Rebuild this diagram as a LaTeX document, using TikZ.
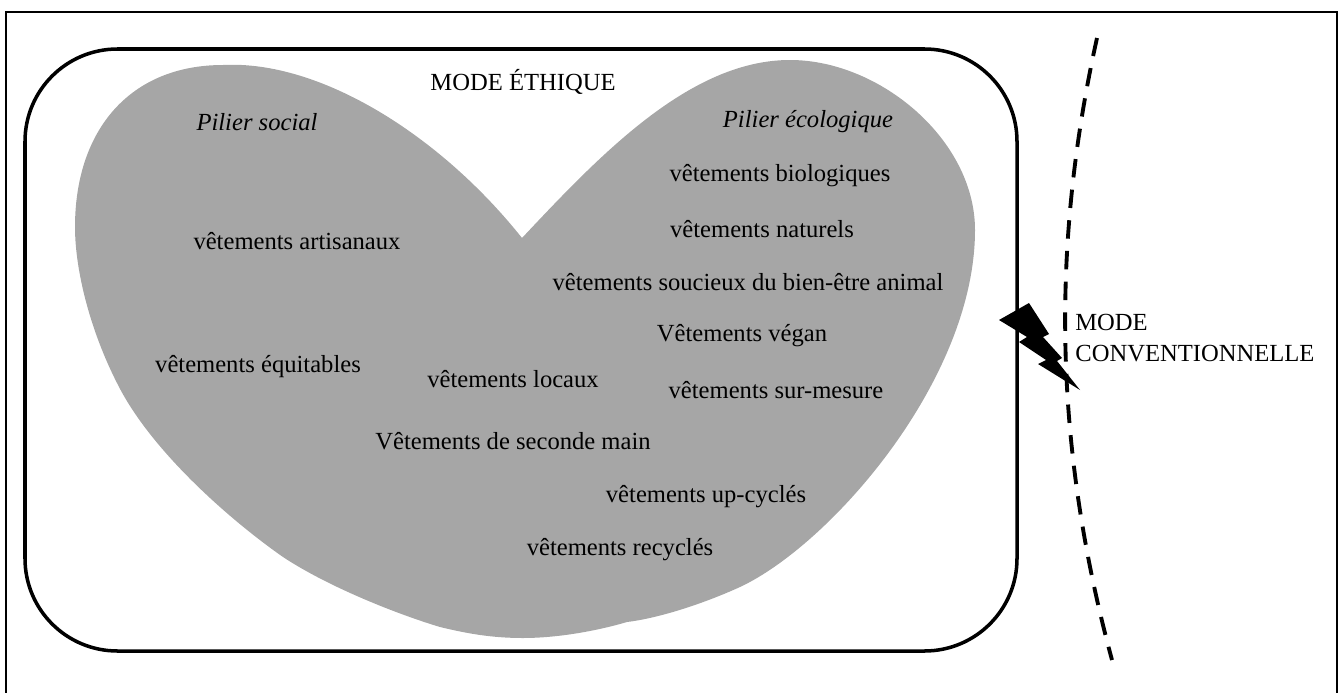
\documentclass[tikz,border=0pt]{standalone}
\usepackage{fontspec}
\setmainfont{Liberation Serif}

\begin{document}
\begin{tikzpicture}[x=0.02cm, y=-0.02cm,
    itemtxt/.style={font=\fontsize{14}{17.6}\selectfont, inner sep=0pt},
    pillar/.style={itemtxt, font=\fontsize{14}{17.6}\selectfont\itshape},
    heartfill/.style={fill=black!35, draw=none},
    boxline/.style={draw=black, line width=2pt, rounded corners=1.85cm}]
    \useasboundingbox (0,0) rectangle (1339,693);

    % Frame and box
    \draw [line width=1.1pt] (6,693) -- (6,12) -- (1337,12) -- (1337,693);
    \fill [heartfill] (522,238)
        .. controls (600,155) and (690,60) .. (790,60)
        .. controls (880,60) and (975,140) .. (975,230)
        .. controls (975,380) and (830,545) .. (740,587)
        .. controls (705,603) and (660,618) .. (627,622)
        .. controls (600,630) and (560,638) .. (523,638)
        .. controls (490,638) and (465,633) .. (440,627)
        .. controls (400,615) and (330,588) .. (283,557)
        .. controls (230,520) and (150,450) .. (117,383)
        .. controls (90,330) and (75,270) .. (75,227)
        .. controls (75,130) and (130,65) .. (223,65)
        .. controls (320,60) and (440,135) .. (522,238) -- cycle;
    \draw [boxline] (25,49) rectangle (1017,651);

    % Border of conventional fashion
    \draw [line width=2.2pt, dash pattern=on 10.5pt off 7pt] (1097,38) .. controls (1050,250) and (1055,450) .. (1112,660);
    \fill (999,320) -- (1029,303) -- (1049,334) -- (1043,337) -- (1062,358) -- (1057,361) -- (1080,390) -- (1038,364) -- (1046,360) -- (1019,342) -- (1027,337) -- cycle;

    % Nodes
    \node [itemtxt] (ethique) at (523,82)  {MODE ÉTHIQUE};
    \node [pillar]  (social)  at (257,122) {Pilier social};
    \node [pillar]  (ecolo)   at (808,122) {Pilier écologique};
    \node [itemtxt] (bio)     at (780,176) {vêtements biologiques};
    \node [itemtxt] (natur)   at (762,229) {vêtements naturels};
    \node [itemtxt] (animal)  at (748,282) {vêtements soucieux du bien-être animal};
    \node [itemtxt] (vegan)   at (742,336) {Vêtements végan};
    \node [itemtxt] (mesure)  at (776,390) {vêtements sur-mesure};
    \node [itemtxt] (artis)   at (297,241) {vêtements artisanaux};
    \node [itemtxt] (equit)   at (258,367) {vêtements équitables};
    \node [itemtxt] (locaux)  at (513,379) {vêtements locaux};
    \node [itemtxt] (seconde) at (513,441) {Vêtements de seconde main};
    \node [itemtxt] (upcycle) at (706,497) {vêtements up-cyclés};
    \node [itemtxt] (recycle) at (620,550) {vêtements recyclés};
    \node [itemtxt, align=left, anchor=west] (conv) at (1075,338) {MODE\\CONVENTIONNELLE};
\end{tikzpicture}
\end{document}
